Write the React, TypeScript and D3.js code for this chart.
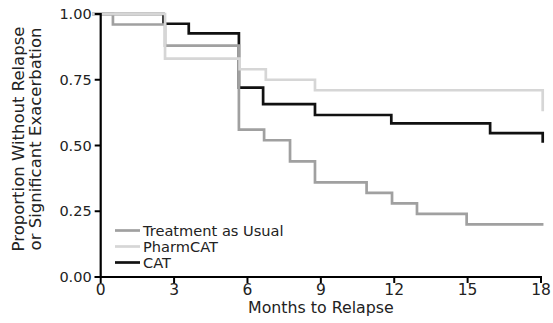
import { useMemo } from "react";
import * as d3 from "d3";

// Kaplan-Meier style step data (months, survival proportion)
const startTime = -0.35;
const seriesNames = ["Treatment as Usual", "PharmCAT", "CAT"];
const seriesColors = ["#a0a0a0", "#d6d6d6", "#111111"];

const tauTimes = [0.5, 2.63, 5.65, 6.68, 7.74, 8.76, 10.87, 11.91, 12.93, 14.96];
const tauValues = [0.96, 0.88, 0.56, 0.52, 0.44, 0.36, 0.32, 0.28, 0.24, 0.2];
const tauEnd = 18.1;

const pharmTimes = [2.63, 5.68, 6.75, 8.76, 18.07];
const pharmValues = [0.83, 0.79, 0.75, 0.71, 0.63];
const pharmEnd = 18.07;

const catTimes = [2.57, 3.6, 5.65, 6.64, 8.76, 11.88, 15.92, 18.07];
const catValues = [0.963, 0.926, 0.72, 0.657, 0.616, 0.584, 0.547, 0.51];
const catEnd = 18.07;

const xTicks = [0, 3, 6, 9, 12, 15, 18];
const yTicks = [0, 0.25, 0.5, 0.75, 1];

const FONT = "DejaVu Sans, Verdana, sans-serif";

function toSteps(times: number[], values: number[], end: number): [number, number][] {
  const pts: [number, number][] = [[startTime, 1]];
  times.forEach((t, i) => pts.push([t, values[i]]));
  const last = values[values.length - 1];
  if (end > times[times.length - 1]) pts.push([end, last]);
  return pts;
}

export default function App() {
  const width = 553;
  const height = 323;

  const x = d3.scaleLinear().domain([0, 18]).range([100.7, 541]);
  const y = d3.scaleLinear().domain([0, 1]).range([277, 14]);

  const series = useMemo(
    () => [
      toSteps(tauTimes, tauValues, tauEnd),
      toSteps(pharmTimes, pharmValues, pharmEnd),
      toSteps(catTimes, catValues, catEnd),
    ],
    [],
  );

  const line = d3
    .line<[number, number]>()
    .x((d) => x(d[0]))
    .y((d) => y(d[1]))
    .curve(d3.curveStepAfter);

  // draw order: CAT underneath, then TAU, then PharmCAT
  const order = [2, 0, 1];

  const legendY = [230.5, 246.5, 262.5];

  return (
    <svg
      width={width}
      height={height}
      style={{ position: "absolute", left: 0, top: 0, background: "#fff" }}
      fontFamily={FONT}
    >
      {order.map((i) => (
        <path
          key={seriesNames[i]}
          d={line(series[i]) ?? ""}
          fill="none"
          stroke={seriesColors[i]}
          strokeWidth={2.7}
          strokeLinejoin="miter"
        />
      ))}

      {/* y axis */}
      <line x1={x(0)} x2={x(0)} y1={y(1) - 1} y2={y(0) + 1} stroke="#000" strokeWidth={2.2} />
      {yTicks.map((t) => (
        <g key={t} transform={`translate(0,${y(t)})`}>
          <line x1={x(0) - 6} x2={x(0)} stroke="#000" strokeWidth={2} />
          <text x={x(0) - 9} dy="0.36em" textAnchor="end" fontSize={14.5} fill="#222">
            {d3.format(".2f")(t)}
          </text>
        </g>
      ))}

      {/* x axis */}
      <line x1={x(0) - 6} x2={x(18) + 1} y1={y(0)} y2={y(0)} stroke="#000" strokeWidth={2.2} />
      {xTicks.map((t) => (
        <g key={t} transform={`translate(${x(t)},0)`}>
          <line y1={y(0)} y2={y(0) + 6} stroke="#000" strokeWidth={2} />
          <text y={y(0) + 18} textAnchor="middle" fontSize={15.5} fill="#222">
            {t}
          </text>
        </g>
      ))}

      <text x={x(9)} y={313} textAnchor="middle" fontSize={15.8} fill="#222">
        Months to Relapse
      </text>

      <g transform="translate(0,139) rotate(-90)">
        <text x={0} y={24} textAnchor="middle" fontSize={16.5} fill="#222">
          Proportion Without Relapse
        </text>
        <text x={0} y={40.5} textAnchor="middle" fontSize={16.5} fill="#222">
          or Significant Exacerbation
        </text>
      </g>

      {/* legend */}
      {seriesNames.map((name, i) => (
        <g key={name} transform={`translate(0,${legendY[i]})`}>
          <line x1={115} x2={140} stroke={seriesColors[i]} strokeWidth={2.7} />
          <text x={143} dy="0.36em" fontSize={14.6} fill="#222">
            {name}
          </text>
        </g>
      ))}
    </svg>
  );
}
